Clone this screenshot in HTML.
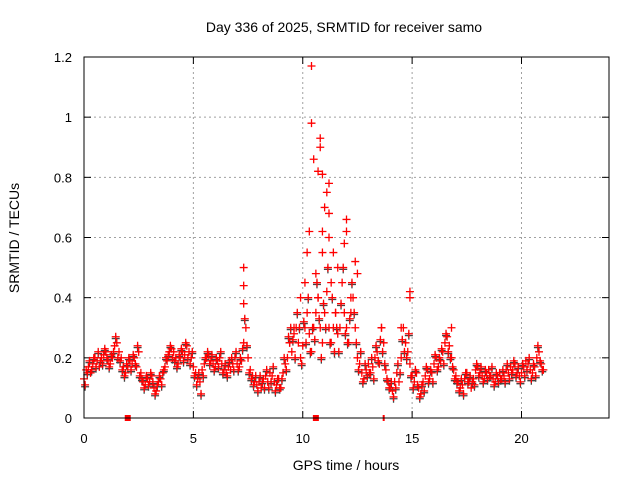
<!DOCTYPE html>
<html><head><meta charset="utf-8"><style>
body{margin:0;background:#fff;}
svg{display:block;font-family:"Liberation Sans",sans-serif;}
</style></head><body>
<svg width="640" height="480" id="chart">
<rect width="640" height="480" fill="#fff"/>
<text x="344" y="32" font-size="14" text-anchor="middle">Day 336 of 2025, SRMTID for receiver samo</text>
<text x="346" y="470" font-size="14" text-anchor="middle">GPS time / hours</text>
<text transform="translate(19,238) rotate(-90)" font-size="14" text-anchor="middle">SRMTID / TECUs</text>
<g id="grid"></g><g id="ticks"></g><g id="marks"></g>
<rect x="84" y="57" width="525" height="361" fill="none" stroke="#000" stroke-width="1"/>
</svg>
<script>
const xTicks=[0,5,10,15,20];
const yTicks=[0,0.2,0.4,0.6,0.8,1,1.2];
const yTickLabels=["0","0.2","0.4","0.6","0.8","1","1.2"];
const seriesA=[0.13,0.16,0.17,0.15,0.18,0.2,0.19,0.17,0.2,0.21,
0.22,0.19,0.18,0.2,0.24,0.25,0.22,0.2,0.17,0.15,
0.17,0.19,0.18,0.2,0.17,0.22,0.15,0.12,0.11,0.13,
0.12,0.14,0.1,0.09,0.12,0.13,0.15,0.17,0.19,0.22,
0.23,0.22,0.2,0.18,0.2,0.22,0.21,0.24,0.22,0.2,
0.17,0.15,0.13,0.12,0.16,0.18,0.2,0.21,0.19,0.18,
0.17,0.19,0.2,0.18,0.16,0.15,0.17,0.16,0.18,0.2,
0.18,0.17,0.19,0.25,0.3,0.2,0.16,0.14,0.12,0.11,
0.12,0.1,0.13,0.14,0.12,0.15,0.14,0.12,0.11,0.13,
0.1,0.15,0.18,0.2,0.25,0.22,0.28,0.3,0.25,0.2,
0.24,0.3,0.35,0.28,0.22,0.3,0.35,0.4,0.3,0.25,
0.35,0.42,0.3,0.25,0.3,0.35,0.28,0.3,0.45,0.35,
0.3,0.25,0.35,0.4,0.3,0.2,0.18,0.15,0.13,0.16,
0.18,0.15,0.17,0.2,0.22,0.18,0.3,0.25,0.16,0.12,
0.1,0.09,0.12,0.15,0.12,0.2,0.3,0.25,0.22,0.18,
0.14,0.12,0.15,0.1,0.08,0.12,0.14,0.16,0.13,0.15,
0.18,0.2,0.17,0.19,0.22,0.25,0.27,0.24,0.2,0.16,
0.14,0.12,0.1,0.11,0.13,0.15,0.12,0.1,0.13,0.16,
0.17,0.15,0.14,0.13,0.15,0.16,0.14,0.13,0.12,0.14,
0.15,0.13,0.14,0.16,0.15,0.17,0.16,0.18,0.15,0.14,
0.15,0.17,0.19,0.18,0.16,0.15,0.17,0.2,0.22,0.18,0.16];
const seriesB=[0.11,0.15,0.19,0.16,0.2,0.17,0.22,0.19,0.18,0.23,
0.2,0.17,0.21,0.22,0.27,0.2,0.19,0.16,0.14,0.18,
0.2,0.16,0.21,0.18,0.24,0.14,0.13,0.1,0.14,0.11,
0.15,0.12,0.08,0.11,0.14,0.11,0.16,0.2,0.21,0.24,
0.2,0.19,0.17,0.21,0.23,0.19,0.25,0.2,0.18,0.22,
0.14,0.11,0.15,0.08,0.14,0.2,0.22,0.18,0.21,0.16,
0.2,0.17,0.22,0.15,0.18,0.14,0.19,0.2,0.16,0.22,
0.16,0.2,0.23,0.33,0.24,0.15,0.13,0.11,0.14,0.09,
0.14,0.12,0.1,0.16,0.1,0.12,0.17,0.09,0.13,0.1,
0.13,0.2,0.16,0.27,0.3,0.26,0.2,0.35,0.3,0.18,
0.32,0.25,0.4,0.22,0.3,0.26,0.45,0.33,0.2,0.38,
0.3,0.5,0.25,0.4,0.22,0.3,0.22,0.38,0.5,0.28,
0.25,0.33,0.45,0.35,0.25,0.16,0.22,0.12,0.18,0.14,
0.15,0.2,0.13,0.24,0.19,0.26,0.22,0.18,0.13,0.1,
0.12,0.07,0.1,0.18,0.15,0.26,0.22,0.2,0.28,0.14,
0.1,0.16,0.11,0.07,0.11,0.09,0.17,0.12,0.16,0.12,
0.21,0.16,0.2,0.23,0.18,0.28,0.22,0.2,0.17,0.13,
0.12,0.09,0.13,0.08,0.15,0.12,0.14,0.12,0.11,0.18,
0.14,0.17,0.12,0.16,0.13,0.14,0.17,0.11,0.15,0.12,
0.13,0.16,0.12,0.18,0.13,0.15,0.19,0.14,0.17,0.12,
0.18,0.14,0.16,0.2,0.13,0.18,0.14,0.24,0.19,0.16];
const outT=[10.4,10.4,10.5,10.8,10.8,10.9,10.7,11.2,11.1,11.0,11.2,10.9,11.2,11.4,12.0,12.0,11.9,12.5,12.4,7.3,7.3,7.3,14.9,14.9,16.8,10.2,10.1,9.9,10.6,10.9,11.6,11.3,12.2,11.5,10.7,13.6,14.5,9.6,9.4,10.3];
const outV=[1.17,0.98,0.86,0.93,0.9,0.81,0.82,0.78,0.75,0.7,0.68,0.62,0.6,0.55,0.66,0.62,0.58,0.48,0.52,0.5,0.44,0.38,0.42,0.4,0.3,0.55,0.45,0.4,0.48,0.55,0.5,0.45,0.4,0.35,0.4,0.3,0.3,0.3,0.25,0.62];
const gapT=[2.0,10.6];
const gapLineT=[13.7];
const X=t=>84+t*(525/24);
const Y=v=>418-v*(361/1.2);
const NS="http://www.w3.org/2000/svg";
function mk(tag,attrs,parent){const e=document.createElementNS(NS,tag);for(const k in attrs)e.setAttribute(k,attrs[k]);document.getElementById(parent).appendChild(e);return e;}
xTicks.forEach(t=>{
  if(t>0){const g=mk('line',{x1:X(t),x2:X(t),y1:57,y2:418,stroke:'#a0a0a0','stroke-dasharray':'2,3'},'grid');
  
  }
  const l=mk('text',{x:X(t),y:443,'font-size':13,'text-anchor':'middle'},'ticks');l.textContent=t;
  
  
  mk('line',{x1:X(t),x2:X(t),y1:418,y2:411,stroke:'#000'},'ticks');
  mk('line',{x1:X(t),x2:X(t),y1:57,y2:64,stroke:'#000'},'ticks');
});
yTicks.forEach((v,i)=>{
  if(v>0&&v<1.2){const g=mk('line',{x1:84,x2:609,y1:Y(v),y2:Y(v),stroke:'#a0a0a0','stroke-dasharray':'2,3'},'grid');
  
  }
  const l=mk('text',{x:72,y:Y(v)+5,'font-size':13,'text-anchor':'end'},'ticks');l.textContent=yTickLabels[i];
  
  
  mk('line',{x1:84,x2:91,y1:Y(v),y2:Y(v),stroke:'#000'},'ticks');
  mk('line',{x1:609,x2:602,y1:Y(v),y2:Y(v),stroke:'#000'},'ticks');
});
function plus(t,v,c){const x=X(t),y=Y(v);
  const p=mk('path',{d:`M${x-4},${y}h8M${x},${y-4}v8`,stroke:c,'stroke-width':1.3,fill:'none'},'marks');
  
  }
seriesB.forEach((v,i)=>plus(i*0.1+0.05,v-0.006,'#444'));
seriesA.forEach((v,i)=>plus(i*0.1,v,'#f00'));
seriesB.forEach((v,i)=>plus(i*0.1+0.05,v,'#f00'));
outT.forEach((t,i)=>plus(t,outV[i],'#f00'));
gapT.forEach(t=>{const r=mk('rect',{x:X(t)-3,y:415,width:6,height:6,fill:'#f00'},'marks');
  
  });
gapLineT.forEach(t=>{const r=mk('rect',{x:X(t)-1,y:415,width:2,height:6,fill:'#f00'},'marks');
  
  });
</script>
</body></html>
